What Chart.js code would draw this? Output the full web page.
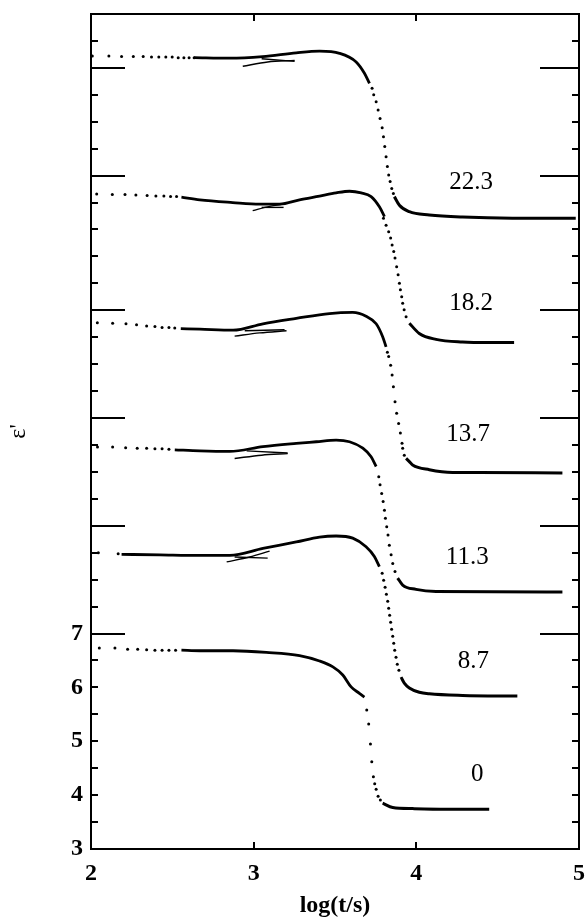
<!DOCTYPE html>
<html><head><meta charset="utf-8">
<script src="https://cdn.jsdelivr.net/npm/chart.js@4.4.1/dist/chart.umd.min.js"></script>
<style>html,body{margin:0;padding:0;background:#fff}#wrap{width:586px;height:917px;position:relative}</style>
</head><body><div id="wrap"><canvas id="c" width="586" height="917"></canvas></div>
<script>
// ---- axis / label data ----
const xTickLabels = ['2','3','4','5'];
const yTickLabels = [3,4,5,6,7];
const longTickValues = [7,9,11,13,15.5,17.5];
const curveLabels = ['22.3','18.2','13.7','11.3','8.7','0'];
const curveLabelAnchor = [[4.337,15.38],[4.337,13.12],[4.319,10.69],[4.313,8.42],[4.350,6.49],[4.374,4.39]];

// ---- curve 22.3 ----
const dots22 = [[2.008,17.72],[2.110,17.72],[2.188,17.71],[2.260,17.71],[2.321,17.71],[2.372,17.70],[2.417,17.70],[2.460,17.70],[2.499,17.70],[2.536,17.69],[2.571,17.69],[2.603,17.69],[2.634,17.69],
  [3.728,17.12],[3.738,17.00],[3.753,16.87],[3.765,16.72],[3.777,16.56],[3.790,16.39],[3.798,16.22],[3.806,16.04],[3.814,15.85],[3.822,15.67],[3.830,15.51],[3.839,15.39],[3.849,15.26],[3.859,15.17]];
const hump22 = [[2.634,17.69],[2.853,17.68],[3.055,17.71],[3.262,17.78],[3.405,17.81],[3.528,17.77],[3.630,17.61],[3.681,17.40],[3.712,17.21]];
const tail22 = [[3.865,15.11],[3.896,14.95],[3.957,14.83],[4.080,14.77],[4.284,14.73],[4.591,14.71],[4.980,14.71]];
const branch22a = [[2.933,17.53],[3.086,17.61],[3.252,17.64]];
const branch22b = [[3.049,17.67],[3.252,17.62]];

// ---- curve 18.2 ----
const dots18 = [[2.035,15.16],[2.131,15.15],[2.209,15.15],[2.276,15.14],[2.345,15.13],[2.399,15.12],[2.448,15.12],[2.489,15.11],[2.526,15.11],
  [3.798,14.71],[3.814,14.58],[3.830,14.46],[3.842,14.34],[3.851,14.21],[3.861,14.09],[3.869,13.97],[3.879,13.81],[3.888,13.66],[3.896,13.50],[3.902,13.38],[3.910,13.25],[3.916,13.13],[3.925,13.01],[3.937,12.88]];
const hump18 = [[2.556,15.10],[2.669,15.05],[2.871,15.00],[3.037,14.97],[3.160,14.97],[3.282,15.05],[3.405,15.12],[3.507,15.18],[3.589,15.21],[3.661,15.18],[3.722,15.11],[3.773,14.92],[3.804,14.74]];
const tail18 = [[3.957,12.76],[4.018,12.57],[4.121,12.46],[4.284,12.41],[4.448,12.40],[4.601,12.40]];
const branch18a = [[2.994,14.85],[3.098,14.93],[3.184,14.97]];
const branch18b = [[3.049,14.91],[3.184,14.91]];

// ---- curve 13.7 ----
const dots13 = [[2.039,12.77],[2.133,12.76],[2.215,12.75],[2.280,12.73],[2.342,12.71],[2.393,12.70],[2.437,12.68],[2.479,12.68],[2.515,12.67],
  [3.822,12.22],[3.830,12.14],[3.842,11.98],[3.851,11.80],[3.859,11.58],[3.869,11.30],[3.879,11.09],[3.891,10.90],[3.902,10.72],[3.912,10.53],[3.916,10.44],[3.926,10.31]];
const hump13 = [[2.552,12.66],[2.669,12.65],[2.873,12.63],[3.057,12.75],[3.262,12.85],[3.466,12.94],[3.609,12.96],[3.691,12.89],[3.753,12.75],[3.793,12.51],[3.814,12.32]];
const tail13 = [[3.937,10.25],[3.957,10.19],[3.977,10.13],[4.080,10.04],[4.223,9.99],[4.387,9.99],[4.898,9.98]];
const branch13a = [[2.883,12.52],[3.037,12.58],[3.202,12.62]];
const branch13b = [[2.945,12.62],[3.190,12.64]];

// ---- curve 11.3 ----
const dots11 = [[2.040,10.46],[2.133,10.46],[2.213,10.45],[2.284,10.44],[2.342,10.44],[2.393,10.43],[2.437,10.43],[2.479,10.42],
  [3.769,9.91],[3.777,9.76],[3.787,9.60],[3.796,9.45],[3.804,9.29],[3.810,9.14],[3.818,8.98],[3.826,8.83],[3.834,8.64],[3.845,8.46],[3.855,8.30],[3.869,8.15]];
const hump11 = [[2.515,10.41],[2.669,10.39],[2.853,10.38],[3.057,10.47],[3.262,10.53],[3.385,10.56],[3.507,10.59],[3.589,10.56],[3.671,10.44],[3.722,10.28],[3.753,10.10]];
const tail11 = [[3.885,8.03],[3.916,7.90],[3.998,7.82],[4.121,7.78],[4.898,7.77]];
const branch11a = [[2.883,10.25],[3.049,10.31],[3.209,10.34]];
const branch11b = [[2.957,10.39],[3.209,10.35]];

// ---- curve 8.7 ----
const dots8 = [[2.045,8.50],[2.167,8.48],
  [3.790,8.12],[3.799,7.99],[3.808,7.86],[3.816,7.73],[3.824,7.60],[3.830,7.47],[3.836,7.34],[3.842,7.21],[3.848,7.08],[3.855,6.95],[3.861,6.82],[3.867,6.69],[3.875,6.56],[3.883,6.43],[3.893,6.32]];
const hump8 = [[2.188,8.47],[2.423,8.46],[2.669,8.45],[2.853,8.45],[3.057,8.58],[3.262,8.70],[3.405,8.79],[3.507,8.81],[3.609,8.77],[3.691,8.61],[3.742,8.43],[3.773,8.24]];
const tail8 = [[3.906,6.19],[3.926,6.08],[3.957,5.99],[4.018,5.91],[4.080,5.88],[4.284,5.85],[4.621,5.84]];
const branch8a = [[2.834,8.33],[2.975,8.42],[3.098,8.53]];
const branch8b = [[2.883,8.42],[3.086,8.40]];

// ---- curve 0 ----
const dots0 = [[2.051,6.73],[2.147,6.73],[2.225,6.71],[2.287,6.71],[2.342,6.70],[2.393,6.69],[2.437,6.69],[2.479,6.69],[2.520,6.69],
  [3.695,5.58],[3.707,5.32],[3.718,4.95],[3.726,4.62],[3.736,4.34],[3.744,4.21],[3.753,4.11],[3.765,3.98],[3.779,3.91]];
const hump0 = [[2.556,6.69],[2.669,6.68],[2.873,6.68],[3.078,6.65],[3.282,6.59],[3.405,6.49],[3.487,6.38],[3.548,6.23],[3.599,6.01],[3.650,5.89],[3.681,5.82]];
const tail0 = [[3.793,3.85],[3.855,3.77],[3.977,3.75],[4.182,3.74],[4.448,3.74]];

// ---- build datasets ----
const toXY = a => a.map(p => ({x:p[0], y:p[1]}));
const dotsDS = a => ({data:toXY(a), showLine:false, pointRadius:1.5, pointHoverRadius:1.5, pointBackgroundColor:'#000', pointBorderWidth:0, borderColor:'#000'});
const lineDS = (a,w) => ({data:toXY(a), showLine:true, pointRadius:0, pointHoverRadius:0, borderColor:'#000', borderWidth:w, cubicInterpolationMode:'monotone', fill:false});

const datasets = [];
[[dots22,hump22,tail22,[branch22a,branch22b]],
 [dots18,hump18,tail18,[branch18a,branch18b]],
 [dots13,hump13,tail13,[branch13a,branch13b]],
 [dots11,hump11,tail11,[branch11a,branch11b]],
 [dots8,hump8,tail8,[branch8a,branch8b]],
 [dots0,hump0,tail0,[]]].forEach(([d,h,t,br]) => {
  datasets.push(dotsDS(d));
  datasets.push(lineDS(h,2.8));
  datasets.push(lineDS(t,3));
  br.forEach(b => datasets.push(lineDS(b,1.4)));
});

const serif = 'Liberation Serif';
const noPad = s => { s.paddingTop = 0; s.paddingBottom = 0; s.paddingLeft = 0; s.paddingRight = 0; };

const decor = {
  id:'decor',
  afterDraw(chart){
    const {ctx, chartArea:a, scales:{x,y}} = chart;
    ctx.save();
    ctx.strokeStyle = '#000';
    ctx.lineWidth = 2;
    const seg = (x1,y1,x2,y2) => {ctx.beginPath(); ctx.moveTo(x1,y1); ctx.lineTo(x2,y2); ctx.stroke();};
    for (let k = 7; k <= 36; k++) {
      const v = k/2;
      const py = Math.round(y.getPixelForValue(v));
      const isLong = longTickValues.includes(v);
      seg(a.left, py, a.left + (isLong ? 34 : 7), py);
      seg(a.right, py, a.right - (isLong ? 39 : 7), py);
    }
    [3,4].forEach(v => {
      const px = Math.round(x.getPixelForValue(v));
      seg(px, a.bottom, px, a.bottom - 7);
      seg(px, a.top, px, a.top + 7);
    });
    ctx.fillStyle = '#000';
    ctx.font = '25px "' + serif + '"';
    ctx.textAlign = 'center';
    ctx.textBaseline = 'middle';
    curveLabels.forEach((t,i) => {
      ctx.fillText(t, x.getPixelForValue(curveLabelAnchor[i][0]), y.getPixelForValue(curveLabelAnchor[i][1]));
    });
    ctx.restore();
  }
};

new Chart(document.getElementById('c'), {
  type:'scatter',
  data:{datasets},
  plugins:[decor],
  options:{
    responsive:false,
    animation:false,
    devicePixelRatio:1,
    events:[],
    layout:{padding:{top:14,right:7,left:0,bottom:0}},
    plugins:{legend:{display:false}, tooltip:{enabled:false}},
    scales:{
      x:{type:'linear', position:'bottom', min:2, max:5,
        afterFit(s){ s.height = 68; noPad(s); },
        afterBuildTicks(s){ s.ticks = xTickLabels.map(t => ({value:Number(t)})); },
        ticks:{color:'#000', padding:10, maxRotation:0, font:{family:serif, weight:'bold', size:24}, callback:(v)=>xTickLabels[xTickLabels.indexOf(String(v))]},
        grid:{display:true, drawOnChartArea:false, drawTicks:false},
        border:{display:true, color:'#000', width:2},
        title:{display:true, text:'log(t/s)', color:'#000', font:{family:serif, weight:'bold', size:24}, padding:{top:0,bottom:-3}}
      },
      xTop:{type:'linear', position:'top', min:2, max:5,
        afterFit(s){ s.height = 0; noPad(s); },
        ticks:{display:false}, grid:{display:true, drawOnChartArea:false, drawTicks:false},
        border:{display:true, color:'#000', width:2}
      },
      y:{type:'linear', position:'left', min:3, max:18.5,
        afterFit(s){ s.width = 91; noPad(s); },
        afterBuildTicks(s){ s.ticks = yTickLabels.map(v => ({value:v})); },
        ticks:{color:'#000', padding:8, font:{family:serif, weight:'bold', size:24}},
        grid:{display:true, drawOnChartArea:false, drawTicks:false},
        border:{display:true, color:'#000', width:2},
        title:{display:true, text:"\u03B5'", color:'#000', font:{family:serif, size:24}, padding:{top:4,bottom:0}}
      },
      yRight:{type:'linear', position:'right', min:3, max:18.5,
        afterFit(s){ s.width = 0; noPad(s); },
        ticks:{display:false}, grid:{display:true, drawOnChartArea:false, drawTicks:false},
        border:{display:true, color:'#000', width:2}
      }
    }
  }
});
</script></body></html>
